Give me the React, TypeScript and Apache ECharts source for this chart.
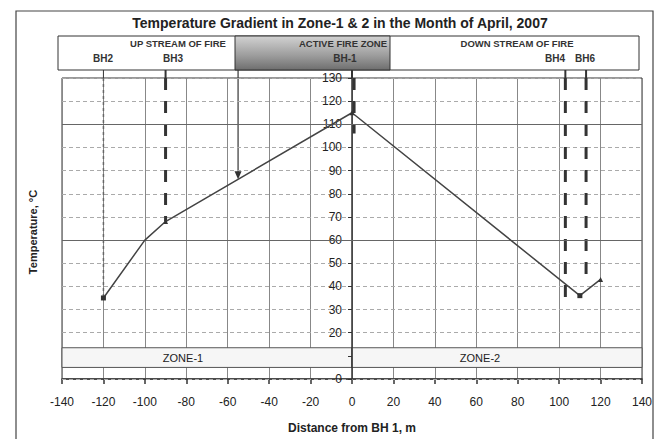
import React, { useEffect, useRef } from "react";
import * as echarts from "echarts";

// ---- data ----
const xMin = -140;
const xMax = 140;
const xStep = 20;
const yMin = 0;
const yMax = 130;
const yStep = 10;

const curveX = [-120, -100, -90, 0, 110, 120];
const curveY = [35, 60, 68, 115, 36, 43];
const curveSymbols = ["rect", "none", "triangle", "triangle", "rect", "triangle"];

const bhNames = ["BH2", "BH3", "BH-1", "BH4", "BH6"];
const bhX = [-120, -90, 1, 103, 113];
const bhBottom = [35, 68, 106, 33, 41];

const zoneNames = ["ZONE-1", "ZONE-2"];
const zoneFrom = [-140, 0];
const zoneTo = [0, 140];
const zoneTop = 13.5;
const zoneBottom = 5;

const darkLines = [60, 110];
const arrowX = -55;

const title = "Temperature Gradient in Zone-1 & 2 in the Month of April, 2007";
const headerNames = ["UP STREAM OF FIRE", "ACTIVE FIRE ZONE", "DOWN STREAM OF FIRE"];
const xName = "Distance from BH 1, m";
const yName = "Temperature, \u00B0C";

const FONT = "Liberation Sans, Arial, sans-serif";

const GRID_LEFT = 62;
const GRID_RIGHT = 18;
const WIDTH = 660;

export default function App() {
  const ref = useRef<HTMLDivElement>(null);

  useEffect(() => {
    if (!ref.current) return;
    const chart = echarts.init(ref.current, undefined, { renderer: "svg" });

    const plotW = WIDTH - GRID_LEFT - GRID_RIGHT;
    const zeroOffset = -((0 - xMin) / (xMax - xMin)) * plotW;

    const boreholeSeries = bhNames.map((n, i) => ({
      type: "line",
      name: n,
      data: [
        [bhX[i], yMax],
        [bhX[i], bhBottom[i]],
      ],
      symbol: "none",
      silent: true,
      z: 4,
      lineStyle:
        i === 0
          ? { color: "#666", width: 1.5, type: [3, 3] }
          : { color: "#333", width: 3, type: [12, 11] },
    }));

    chart.setOption({
      animation: false,
      grid: { left: GRID_LEFT, top: 78, right: GRID_RIGHT, bottom: 59, show: true, borderColor: "#333", borderWidth: 1, backgroundColor: "transparent" },
      xAxis: {
        type: "value",
        min: xMin,
        max: xMax,
        interval: xStep,
        name: xName,
        nameLocation: "middle",
        nameGap: 43,
        nameTextStyle: { fontFamily: FONT, fontSize: 12, fontWeight: "bold", color: "#222" },
        axisLine: { onZero: false, lineStyle: { color: "#333", width: 1.5 } },
        axisTick: { show: true, length: 5, lineStyle: { color: "#333", width: 1.5 } },
        axisLabel: { fontFamily: FONT, fontSize: 12, color: "#222", margin: 17 },
        splitLine: { show: true, lineStyle: { color: "#888", width: 1 } },
      },
      yAxis: {
        type: "value",
        min: yMin,
        max: yMax,
        interval: yStep,
        offset: zeroOffset,
        z: 1,
        axisLine: { onZero: false, lineStyle: { color: "#333", width: 1.5 } },
        axisTick: { show: true, length: 4, lineStyle: { color: "#333" } },
        axisLabel: {
          fontFamily: FONT,
          fontSize: 12,
          color: "#222",
          margin: 10,
          // the zone band covers labels that fall inside it
          formatter: (v: number) => (v > zoneBottom && v < zoneTop ? "" : String(v)),
        },
        splitLine: { show: true, lineStyle: { color: "#aaa", width: 1, type: [4, 3] } },
      },
      series: [
        {
          type: "line",
          name: "Temperature",
          data: curveX.map((x, i) => ({ value: [x, curveY[i]], symbol: curveSymbols[i] })),
          symbolSize: 5,
          lineStyle: { color: "#444", width: 1.5 },
          itemStyle: { color: "#333" },
          z: 5,
          markLine: {
            silent: true,
            symbol: "none",
            label: { show: false },
            lineStyle: { color: "#666", width: 1, type: "solid" },
            data: darkLines.map((v) => ({ yAxis: v })),
          },
          markArea: {
            silent: true,
            itemStyle: { color: "#f6f6f6", borderColor: "#555", borderWidth: 1 },
            label: { show: true, position: "inside", fontFamily: FONT, fontSize: 11, color: "#222" },
            data: zoneNames.map((n, i) => [
              { name: n, coord: [zoneFrom[i], zoneTop], label: { offset: [i === 0 ? -24 : -17, 0] } },
              { coord: [zoneTo[i], zoneBottom] },
            ]),
          },
        },
        ...boreholeSeries,
      ],
    });

    // pixel helpers via the chart's own scales
    const px = (x: number, y: number) => chart.convertToPixel({ gridIndex: 0 }, [x, y]) as number[];
    const gridTop = px(0, yMax)[1];
    const headerBottom = 70;

    // arrow tip on the curve at arrowX (linear between neighbouring points)
    let tipVal = curveY[0];
    for (let i = 0; i < curveX.length - 1; i++) {
      if (arrowX >= curveX[i] && arrowX <= curveX[i + 1]) {
        const t = (arrowX - curveX[i]) / (curveX[i + 1] - curveX[i]);
        tipVal = curveY[i] + t * (curveY[i + 1] - curveY[i]);
      }
    }
    const tip = px(arrowX, tipVal);

    const bhLabelX = [103, 173, 345, 555, 585];
    const headerLabelX = [178, 343, 517];

    const graphics: any[] = [
      {
        type: "rect",
        shape: { x: 16, y: 11, width: 637, height: 445 },
        style: { fill: "none", stroke: "#444", lineWidth: 1.2 },
        silent: true,
      },
      {
        type: "text",
        x: 340,
        y: 23,
        style: { text: title, fontFamily: FONT, fontSize: 14, fontWeight: "bold", fill: "#222", align: "center", verticalAlign: "middle" },
      },
      {
        type: "rect",
        shape: { x: 58, y: 36, width: 581, height: 34 },
        style: { fill: "#fff", stroke: "#333", lineWidth: 1 },
      },
      {
        type: "rect",
        shape: { x: 235, y: 36, width: 155, height: 34 },
        style: {
          fill: new echarts.graphic.LinearGradient(0, 0, 0, 1, [
            { offset: 0, color: "#d2d2d2" },
            { offset: 0.6, color: "#9a9a9a" },
            { offset: 1, color: "#6e6e6e" },
          ]),
          stroke: "#333",
          lineWidth: 1,
        },
      },
      ...headerNames.map((n, i) => ({
        type: "text",
        x: headerLabelX[i],
        y: 43,
        style: { text: n, fontFamily: FONT, fontSize: 9.5, fontWeight: "bold", fill: "#333", align: "center", verticalAlign: "middle" },
      })),
      ...bhNames.map((n, i) => ({
        type: "text",
        x: bhLabelX[i],
        y: 58,
        style: { text: n, fontFamily: FONT, fontSize: 10, fontWeight: "bold", fill: "#333", align: "center", verticalAlign: "middle" },
      })),
      ...bhNames.map((n, i) => {
        const p = px(i === 2 ? 0 : bhX[i], yMax);
        return {
          type: "line",
          shape: { x1: p[0], y1: headerBottom, x2: p[0], y2: gridTop },
          style: { stroke: "#333", lineWidth: i === 0 ? 1 : 2 },
        };
      }),
      {
        type: "line",
        shape: { x1: tip[0], y1: headerBottom, x2: tip[0], y2: tip[1] - 3 },
        style: { stroke: "#333", lineWidth: 1.2 },
      },
      {
        type: "polygon",
        shape: {
          points: [
            [tip[0] - 3.5, tip[1] - 8],
            [tip[0] + 3.5, tip[1] - 8],
            [tip[0], tip[1]],
          ],
        },
        style: { fill: "#333" },
      },
      {
        type: "text",
        x: 33,
        y: 232,
        rotation: Math.PI / 2,
        style: { text: yName, fontFamily: FONT, fontSize: 11, fontWeight: "bold", fill: "#222", align: "center", verticalAlign: "middle" },
      },
    ];

    chart.setOption({ graphic: graphics });

    return () => chart.dispose();
  }, []);

  return (
    <div
      ref={ref}
      style={{ position: "fixed", left: 0, top: 0, width: 660, height: 439, background: "#fff" }}
    />
  );
}
